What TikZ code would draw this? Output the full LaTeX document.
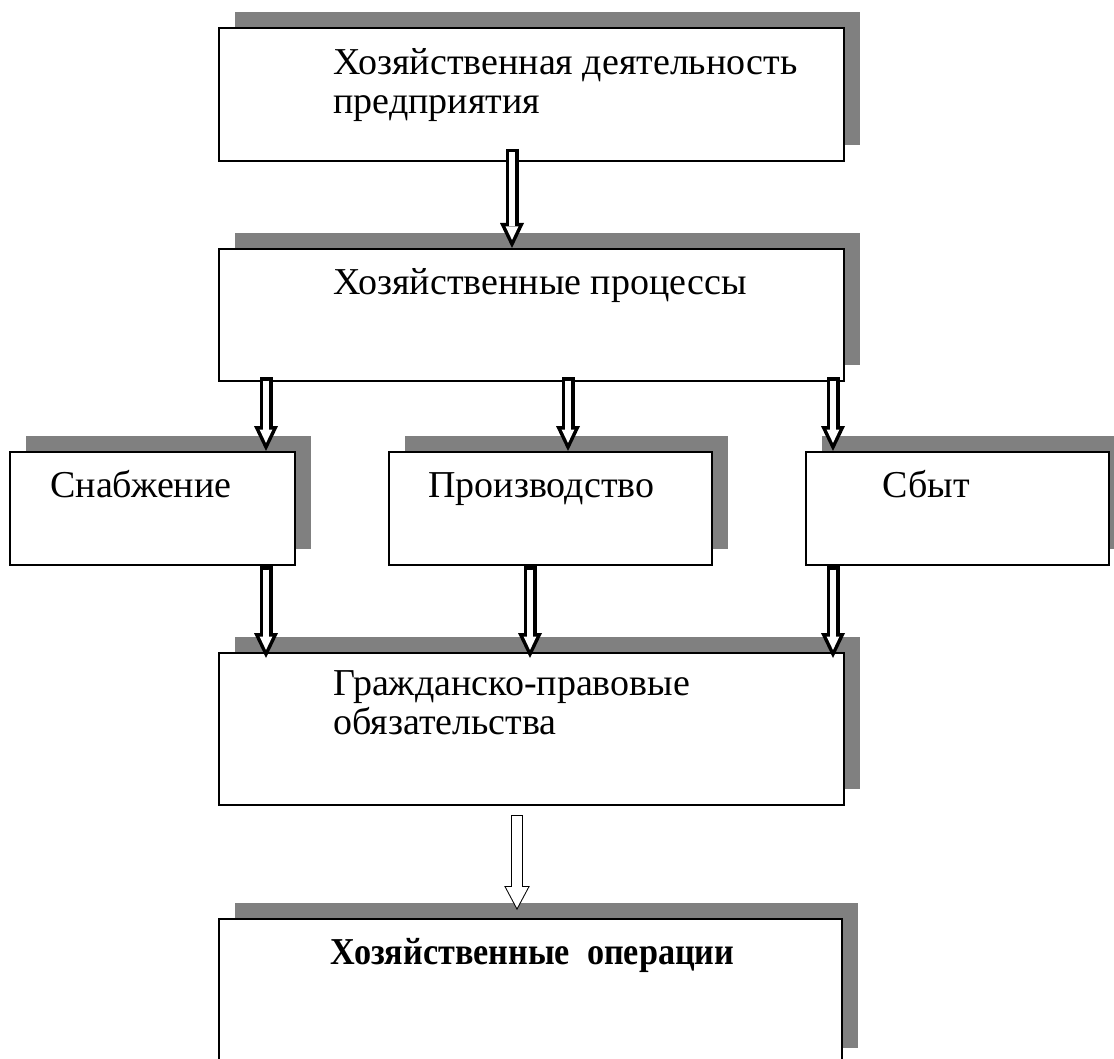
\documentclass[tikz,border=0pt]{standalone}
\usepackage{fontspec}
\setmainfont{Liberation Serif}
\newfontfamily\labelfont{Liberation Serif}
\newfontfamily\operfont[FakeStretch=0.9]{Liberation Serif}
\usepackage{tikz}
\usetikzlibrary{calc,positioning,shadows,arrows.meta}

\definecolor{shadowgray}{RGB}{128,128,128}

\tikzset{
  box/.style={draw, line width=1pt, fill=white, anchor=north west, inner sep=0pt,
    general shadow={fill=shadowgray, shadow xshift=8pt, shadow yshift=8pt}},
  lbl/.style={anchor=base west, inner sep=0pt, align=left,
    font=\labelfont\fontsize{19pt}{19.5pt}\selectfont},
  fatarrow/.style={draw=black, line width=6.5pt,
    -{Triangle[length=12.5pt,width=12pt,line width=0pt]},
    postaction={draw=white, line width=3pt,
      -{Triangle[length=6.7pt,width=6.4pt,line width=0pt]},
      shorten >=4.05pt, shorten <=1.75pt}},
  thinarrow/.style={draw=black, line width=6pt,
    -{Triangle[length=12pt,width=12.8pt,line width=0pt]},
    postaction={draw=white, line width=5pt,
      -{Triangle[length=10.4pt,width=11.1pt,line width=0pt]},
      shorten >=1.06pt, shorten <=0.5pt}}
}

\begin{document}
\begin{tikzpicture}[x=0.5pt,y=-0.5pt]
  \useasboundingbox (0,0) rectangle (1114,1059);
  \clip (0,0) rectangle (1114,1059);

  % boxes
  \node[box, minimum width=312.5pt, minimum height=66.5pt] (firm) at (218,27) {};
  \node[box, minimum width=312.5pt, minimum height=66pt] (proc) at (218,248) {};
  \node[box, minimum width=142.5pt, minimum height=56.5pt] (supply) at (9,451) {};
  \node[box, minimum width=161.5pt, minimum height=56.5pt] (prod) at (388,451) {};
  \node[box, minimum width=151.5pt, minimum height=56.5pt] (sales) at (805,451) {};
  \node[box, minimum width=312.5pt, minimum height=76pt] (oblig) at (218,652) {};
  \node[box, minimum width=311.5pt, minimum height=72.5pt] (oper) at (218,918) {};

  % texts (base = last line)
  \node[lbl] (firmtxt) at (333,114) {Хозяйственная деятельность\\предприятия};
  \node[lbl] (proctxt) at (333,295) {Хозяйственные процессы};
  \node[lbl] (supplytxt) at (50,497) {Снабжение};
  \node[lbl] (prodtxt) at (428,497) {Производство};
  \node[lbl] (salestxt) at (882,497) {Сбыт};
  \node[lbl] (obligtxt) at (333,734) {Гражданско-правовые\\обязательства};
  \node[lbl, font=\operfont\fontsize{19pt}{19.5pt}\selectfont\bfseries] (opertxt) at (330,964)
    {Хозяйственные\ \ операции};

  % arrows
  \coordinate (xa) at (512,0);
  \coordinate (xb) at (266,0);
  \coordinate (xc) at (568,0);
  \coordinate (xd) at (833,0);
  \coordinate (xe) at (530,0);
  \coordinate (xf) at (517,0);

  \draw[fatarrow] ($(firm.south -| xa)+(0,-13)$) -- (proc.north -| xa);
  \draw[fatarrow] ($(proc.south -| xb)+(0,-5)$) -- (supply.north -| xb);
  \draw[fatarrow] ($(proc.south -| xc)+(0,-5)$) -- (prod.north -| xc);
  \draw[fatarrow] ($(proc.south -| xd)+(0,-5)$) -- (sales.north -| xd);
  \draw[fatarrow] (supply.south -| xb) -- ($(oblig.north -| xb)+(0,6)$);
  \draw[fatarrow] (prod.south -| xe) -- ($(oblig.north -| xe)+(0,6)$);
  \draw[fatarrow] (sales.south -| xd) -- ($(oblig.north -| xd)+(0,6)$);
  \draw[thinarrow] ($(oblig.south -| xf)+(0,9)$) -- ($(oper.north -| xf)+(0,-8)$);
\end{tikzpicture}
\end{document}
